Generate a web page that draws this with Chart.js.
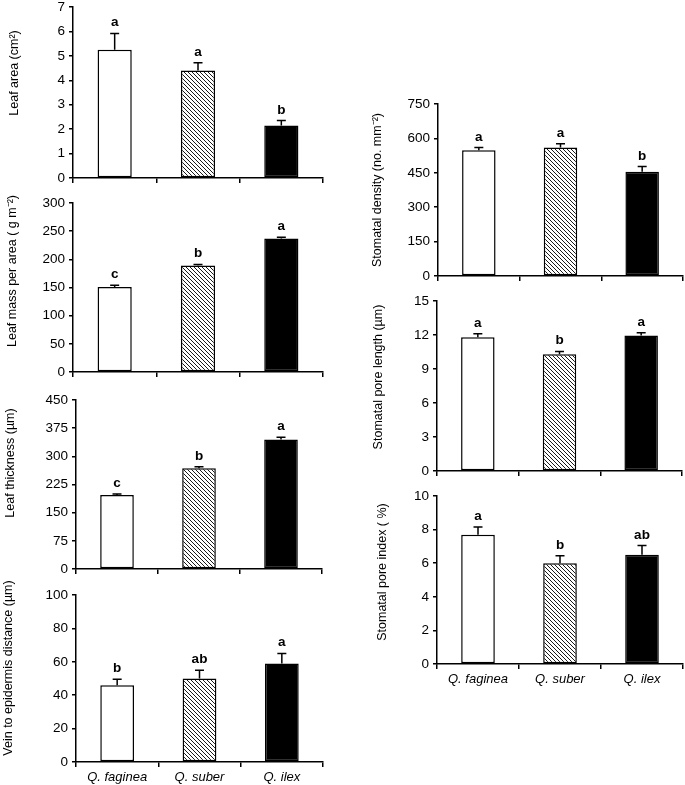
<!DOCTYPE html>
<html lang="en">
<head>
<meta charset="UTF-8" />
<title>Quercus leaf traits</title>
<style>
    body {
        margin: 0;
        background: #fff;
        width: 685px;
        height: 785px;
        position: relative;
        overflow: hidden;
        font-family: 'Liberation Sans', Arial, sans-serif;
    }
    canvas {
        position: absolute;
    }
</style>
</head>
<body>
<script src="https://cdn.jsdelivr.net/npm/chart.js"></script>
<script>
// Species (x categories)
const species = ['Q. faginea', 'Q. suber', 'Q. ilex'];

// Leaf area (cm2)
const leafAreaMean = [5.25, 4.4, 2.15];
const leafAreaErr = [0.67, 0.32, 0.2];
const leafAreaLetters = ['a', 'a', 'b'];

// Leaf mass per area (g m-2)
const lmaMean = [151, 189, 237];
const lmaErr = [3, 2, 2];
const lmaLetters = ['c', 'b', 'a'];

// Leaf thickness (um)
const thicknessMean = [197, 268, 345];
const thicknessErr = [3, 4, 6];
const thicknessLetters = ['c', 'b', 'a'];

// Vein to epidermis distance (um)
const veinMean = [46, 50, 59];
const veinErr = [3.5, 5, 6];
const veinLetters = ['b', 'ab', 'a'];

// Stomatal density (no. mm-2)
const densityMean = [548, 560, 455];
const densityErr = [12, 17, 22];
const densityLetters = ['a', 'a', 'b'];

// Stomatal pore length (um)
const poreLengthMean = [11.8, 10.3, 11.95];
const poreLengthErr = [0.3, 0.25, 0.25];
const poreLengthLetters = ['a', 'b', 'a'];

// Stomatal pore index (%)
const poreIndexMean = [7.7, 6.0, 6.5];
const poreIndexErr = [0.45, 0.45, 0.55];
const poreIndexLetters = ['a', 'b', 'ab'];

const FONT = "'Liberation Sans', Arial, sans-serif";

// diagonal hatch for Q. suber
function makeHatch() {
    const c = document.createElement('canvas');
    c.width = 4; c.height = 4;
    const g = c.getContext('2d');
    g.fillStyle = '#fff';
    g.fillRect(0, 0, 4, 4);
    g.strokeStyle = '#000';
    g.lineWidth = 0.9;
    g.beginPath();
    for (const k of [-4, 0, 4]) {
        g.moveTo(0, k);
        g.lineTo(4, 4 + k);
    }
    g.stroke();
    return g.createPattern(c, 'repeat');
}
const hatch = makeHatch();

// error bars + significance letters
const errorBars = {
    id: 'errorBars',
    afterDatasetsDraw(chart, args, opts) {
        const ctx = chart.ctx;
        const y = chart.scales.y;
        const meta = chart.getDatasetMeta(0);
        ctx.save();
        ctx.strokeStyle = '#000';
        ctx.lineWidth = 1.5;
        ctx.fillStyle = '#000';
        ctx.font = 'bold 13.5px ' + FONT;
        ctx.textAlign = 'center';
        ctx.textBaseline = 'alphabetic';
        meta.data.forEach((bar, i) => {
            const top = y.getPixelForValue(opts.mean[i] + opts.err[i]);
            ctx.beginPath();
            ctx.moveTo(bar.x, bar.y);
            ctx.lineTo(bar.x, top);
            ctx.moveTo(bar.x - 4.5, top);
            ctx.lineTo(bar.x + 4.5, top);
            ctx.stroke();
            ctx.fillText(opts.letters[i], bar.x, top - 7);
        });
        ctx.restore();
    }
};

// rotated y title at a chosen spot
const axisTitle = {
    id: 'axisTitle',
    afterDraw(chart, args, opts) {
        const ctx = chart.ctx;
        ctx.save();
        ctx.translate(opts.x, opts.y);
        ctx.rotate(-Math.PI / 2);
        ctx.fillStyle = '#000';
        ctx.font = '12.5px ' + FONT;
        ctx.textAlign = 'center';
        ctx.textBaseline = 'middle';
        ctx.fillText(opts.text, 0, 0);
        ctx.restore();
    }
};

// panel boxes: plot area (left, top, right, bottom) in page pixels
const panels = [
    { title: 'Leaf area (cm\u00B2)', mean: leafAreaMean, err: leafAreaErr, letters: leafAreaLetters,
      max: 7, step: 1, col: 0, area: [73, 7, 323, 178], tx: 15, ty: 73, labels: false },
    { title: 'Leaf mass per area ( g m\u207B\u00B2)', mean: lmaMean, err: lmaErr, letters: lmaLetters,
      max: 300, step: 50, col: 0, area: [73, 203, 323, 372], tx: 13, ty: 271, labels: false },
    { title: 'Leaf thickness (\u00B5m)', mean: thicknessMean, err: thicknessErr, letters: thicknessLetters,
      max: 450, step: 75, col: 0, area: [76, 400, 322, 569], tx: 11, ty: 463, labels: false },
    { title: 'Vein to epidermis distance (\u00B5m)', mean: veinMean, err: veinErr, letters: veinLetters,
      max: 100, step: 20, col: 0, area: [76, 595, 323, 762], tx: 9, ty: 668, labels: true },
    { title: 'Stomatal density (no. mm\u207B\u00B2)', mean: densityMean, err: densityErr, letters: densityLetters,
      max: 750, step: 150, col: 340, area: [438, 104, 683, 276], tx: 378, ty: 190, labels: false },
    { title: 'Stomatal pore length (\u00B5m)', mean: poreLengthMean, err: poreLengthErr, letters: poreLengthLetters,
      max: 15, step: 3, col: 340, area: [437, 301, 682, 471], tx: 379, ty: 377, labels: false },
    { title: 'Stomatal pore index ( %)', mean: poreIndexMean, err: poreIndexErr, letters: poreIndexLetters,
      max: 10, step: 2, col: 340, area: [437, 496, 683, 664], tx: 383, ty: 572, labels: true }
];

panels.forEach(p => {
    const [L, T, R, B] = p.area;
    const padTop = Math.min(T, 22);
    const xh = p.labels ? 30 : 10;
    const left = p.col;
    const top = T - padTop;
    const width = Math.min(R + 2, 685) - left;
    const height = padTop + (B - T) + xh;
    const yw = L - left;

    const cv = document.createElement('canvas');
    cv.width = width;
    cv.height = height;
    cv.style.left = left + 'px';
    cv.style.top = top + 'px';
    cv.style.width = width + 'px';
    cv.style.height = height + 'px';
    document.body.appendChild(cv);

    new Chart(cv.getContext('2d'), {
        type: 'bar',
        data: {
            labels: species,
            datasets: [{
                data: p.mean,
                backgroundColor: ['#ffffff', hatch, '#000000'],
                borderColor: '#000',
                borderWidth: 1.5,
                borderSkipped: false,
                barPercentage: 0.41,
                categoryPercentage: 1
            }]
        },
        options: {
            responsive: false,
            animation: false,
            devicePixelRatio: 1,
            layout: { padding: { top: padTop, right: width - (R - left), left: 0, bottom: 0 } },
            scales: {
                x: {
                    offset: true,
                    grid: { display: true, offset: true, drawOnChartArea: false, drawTicks: true,
                            tickLength: 5, color: '#000', lineWidth: 1.5 },
                    border: { color: '#000', width: 1.5 },
                    ticks: { display: p.labels, color: '#000', padding: 3,
                             font: { family: FONT, size: 13, style: 'italic' } },
                    afterFit(s) {
                        s.height = xh;
                        s.paddingLeft = 0;
                        s.paddingRight = 0;
                    }
                },
                y: {
                    min: 0,
                    max: p.max,
                    grid: { drawOnChartArea: false, drawTicks: true, tickLength: 4,
                            color: '#000', lineWidth: 1.5 },
                    border: { color: '#000', width: 1.5 },
                    ticks: { stepSize: p.step, color: '#000', padding: 4,
                             font: { family: FONT, size: 13.5 } },
                    afterFit(s) {
                        s.width = yw;
                        s.paddingTop = 0;
                        s.paddingBottom = 0;
                    }
                }
            },
            plugins: {
                legend: { display: false },
                tooltip: { enabled: false },
                errorBars: { mean: p.mean, err: p.err, letters: p.letters },
                axisTitle: { text: p.title, x: p.tx - left, y: p.ty - top }
            }
        },
        plugins: [errorBars, axisTitle]
    });
});
</script>
</body>
</html>
